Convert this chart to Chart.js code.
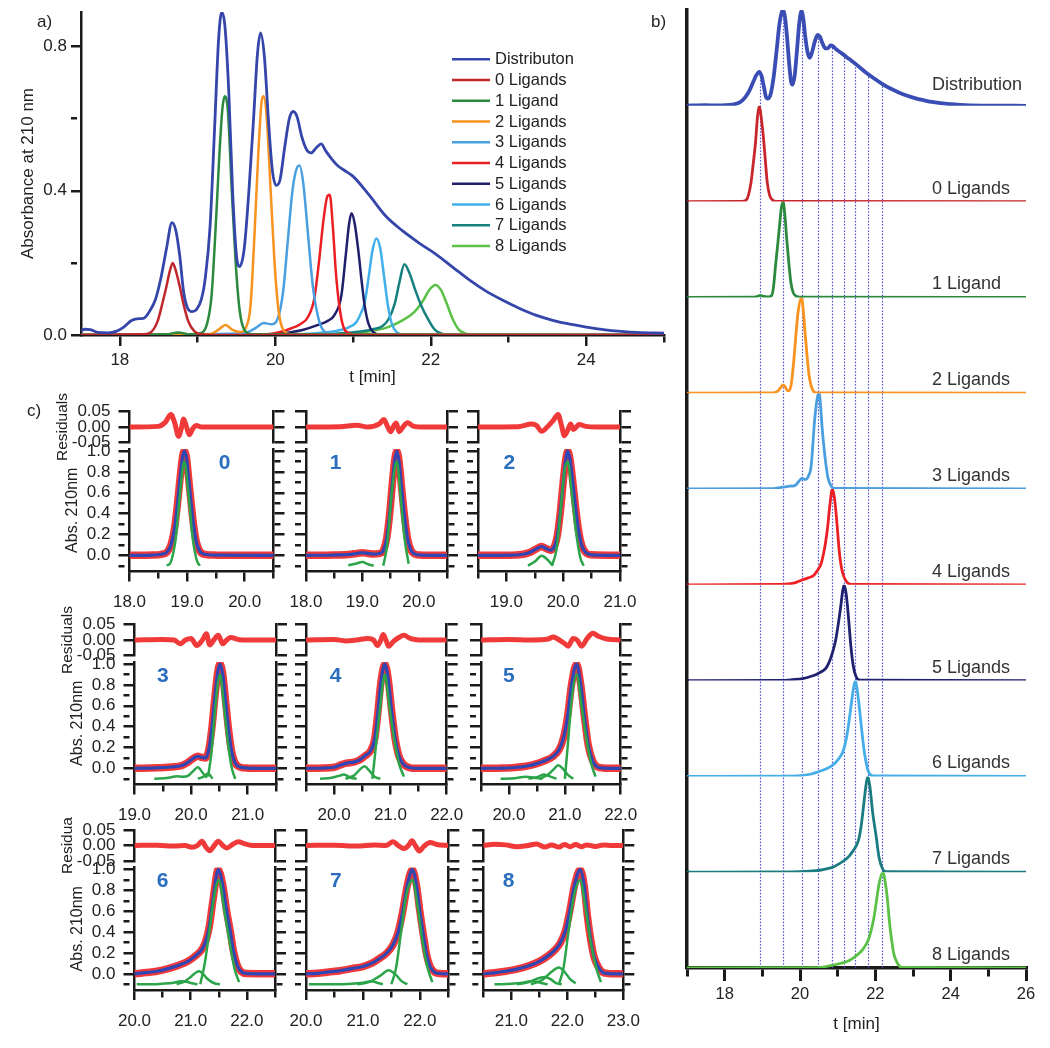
<!DOCTYPE html>
<html><head><meta charset="utf-8">
<script src="https://cdn.jsdelivr.net/npm/chart.js@4.4.1/dist/chart.umd.min.js"></script>
<style>
html,body{margin:0;padding:0;background:#fff;}
#wrap{position:relative;width:1050px;height:1048px;overflow:hidden;background:#fff;}
#wrap canvas{position:absolute;}
.lbl{position:absolute;z-index:5;font-family:"Liberation Sans",Arial,sans-serif;font-size:17px;color:#222;line-height:18px;}
</style></head><body>
<div id="wrap">
<div class="lbl" style="left:37px;top:13px">a)</div>
<div class="lbl" style="left:651px;top:13px">b)</div>
<div class="lbl" style="left:27px;top:402px">c)</div>
</div>
<script>
// ---------------- Panel a data ----------------
const legendA = ['Distributon','0 Ligands','1 Ligand','2 Ligands','3 Ligands','4 Ligands','5 Ligands','6 Ligands','7 Ligands','8 Ligands'];
const xTicksA = [18,19,20,21,22,23,24,25];
const yTicksA = [0,0.2,0.4,0.6,0.8];
const distA = [[17.5,0.012],[17.55,0.016],[17.62,0.015],[17.72,0.007],[17.85,0.006],[17.95,0.01],[18.05,0.022],[18.15,0.04],[18.22,0.045],[18.3,0.046],[18.38,0.065],[18.46,0.1],[18.53,0.16],[18.6,0.24],[18.67,0.312],[18.72,0.29],[18.77,0.22],[18.82,0.12],[18.87,0.075],[18.93,0.065],[18.99,0.072],[19.05,0.1],[19.1,0.16],[19.16,0.3],[19.22,0.58],[19.27,0.82],[19.31,0.895],[19.35,0.86],[19.4,0.68],[19.45,0.4],[19.5,0.22],[19.54,0.19],[19.6,0.24],[19.66,0.4],[19.72,0.6],[19.77,0.78],[19.81,0.838],[19.86,0.77],[19.91,0.6],[19.96,0.46],[20.01,0.415],[20.06,0.43],[20.12,0.52],[20.18,0.6],[20.23,0.62],[20.28,0.605],[20.34,0.55],[20.4,0.515],[20.46,0.505],[20.53,0.52],[20.59,0.53],[20.65,0.51],[20.72,0.49],[20.8,0.47],[20.9,0.455],[21.0,0.44],[21.2,0.39],[21.42,0.33],[21.63,0.29],[21.85,0.255],[22.06,0.225],[22.3,0.185],[22.5,0.152],[22.7,0.123],[22.92,0.097],[23.15,0.073],[23.35,0.055],[23.58,0.04],[23.79,0.03],[24.0,0.022],[24.22,0.015],[24.45,0.01],[24.65,0.007],[25.0,0.005]];
const aLig0 = [[17.5,0],[18.3,0.002],[18.38,0.005],[18.48,0.035],[18.55,0.09],[18.6,0.135],[18.64,0.175],[18.68,0.2],[18.72,0.178],[18.77,0.135],[18.82,0.085],[18.88,0.038],[18.96,0.01],[19.05,0.002],[19.3,0],[25,0]];
const aLig1 = [[17.5,0],[18.6,0.002],[18.75,0.007],[18.9,0.002],[19.05,0.006],[19.12,0.03],[19.18,0.11],[19.24,0.33],[19.28,0.5],[19.32,0.63],[19.35,0.662],[19.39,0.62],[19.44,0.4],[19.49,0.2],[19.54,0.07],[19.6,0.015],[19.7,0.002],[25,0]];
const aLig2 = [[17.5,0],[19.15,0.002],[19.27,0.015],[19.36,0.028],[19.45,0.014],[19.55,0.008],[19.62,0.02],[19.68,0.08],[19.73,0.27],[19.78,0.5],[19.82,0.64],[19.85,0.662],[19.89,0.6],[19.94,0.4],[19.99,0.2],[20.04,0.07],[20.1,0.015],[20.2,0.002],[25,0]];
const aLig3 = [[17.5,0],[19.6,0.005],[19.75,0.02],[19.85,0.033],[19.95,0.03],[20.03,0.045],[20.1,0.12],[20.16,0.26],[20.22,0.4],[20.28,0.465],[20.31,0.47],[20.36,0.42],[20.42,0.28],[20.48,0.14],[20.55,0.05],[20.62,0.012],[20.75,0.002],[25,0]];
const aLig4 = [[17.5,0],[19.9,0.002],[20.05,0.008],[20.2,0.018],[20.32,0.03],[20.42,0.05],[20.5,0.1],[20.56,0.2],[20.62,0.32],[20.67,0.385],[20.7,0.389],[20.74,0.3],[20.78,0.17],[20.83,0.07],[20.88,0.02],[20.95,0.005],[21.1,0],[25,0]];
const aLig5 = [[17.5,0],[19.9,0.002],[20.2,0.008],[20.35,0.014],[20.55,0.028],[20.68,0.04],[20.76,0.055],[20.85,0.11],[20.91,0.23],[20.95,0.31],[20.98,0.338],[21.02,0.31],[21.07,0.23],[21.11,0.15],[21.15,0.08],[21.2,0.03],[21.26,0.008],[21.35,0.001],[25,0]];
const aLig6 = [[17.5,0],[20.3,0.002],[20.6,0.006],[20.8,0.012],[20.95,0.022],[21.04,0.035],[21.1,0.06],[21.15,0.09],[21.2,0.16],[21.25,0.235],[21.3,0.268],[21.35,0.24],[21.4,0.16],[21.45,0.08],[21.5,0.03],[21.56,0.008],[21.65,0.001],[25,0]];
const aLig7 = [[17.5,0],[20.6,0.002],[20.9,0.006],[21.1,0.01],[21.25,0.016],[21.38,0.025],[21.46,0.045],[21.54,0.09],[21.6,0.15],[21.66,0.196],[21.72,0.175],[21.8,0.125],[21.88,0.08],[21.97,0.042],[22.05,0.015],[22.14,0.004],[22.3,0],[25,0]];
const aLig8 = [[17.5,0],[20.8,0.002],[21.2,0.01],[21.45,0.022],[21.63,0.04],[21.78,0.062],[21.9,0.095],[21.98,0.125],[22.06,0.139],[22.13,0.125],[22.2,0.09],[22.28,0.045],[22.36,0.015],[22.45,0.004],[22.6,0],[25,0]];

// ---------------- Panel b data ----------------
const labelsB = ['Distribution','0 Ligands','1 Ligand','2 Ligands','3 Ligands','4 Ligands','5 Ligands','6 Ligands','7 Ligands','8 Ligands'];
const xTicksB = [17,18,19,20,21,22,23,24,25,26];
const peakTimesB = [18.93,19.55,20.04,20.48,20.85,21.17,21.46,21.81,22.18];
const distB = [[17,0.002],[17.5,0.006],[17.8,0.004],[18.2,0.012],[18.4,0.035],[18.55,0.09],[18.66,0.16],[18.76,0.25],[18.84,0.32],[18.92,0.355],[18.98,0.31],[19.04,0.2],[19.1,0.09],[19.15,0.075],[19.22,0.12],[19.3,0.3],[19.38,0.58],[19.45,0.84],[19.51,0.97],[19.55,1.0],[19.6,0.93],[19.66,0.7],[19.71,0.45],[19.76,0.26],[19.8,0.22],[19.86,0.32],[19.92,0.58],[19.98,0.86],[20.04,0.99],[20.09,0.9],[20.14,0.72],[20.2,0.56],[20.26,0.5],[20.32,0.56],[20.4,0.68],[20.47,0.74],[20.53,0.72],[20.6,0.65],[20.67,0.6],[20.74,0.6],[20.81,0.63],[20.88,0.62],[20.96,0.59],[21.1,0.55],[21.3,0.49],[21.5,0.43],[21.74,0.35],[21.95,0.29],[22.18,0.23],[22.4,0.18],[22.62,0.14],[22.85,0.105],[23.07,0.078],[23.3,0.057],[23.5,0.04],[23.9,0.02],[24.39,0.008],[25,0.002],[26,0]];
const bLig0 = [[17,0],[18.45,0.003],[18.58,0.02],[18.7,0.2],[18.76,0.4],[18.82,0.62],[18.87,0.88],[18.92,1.0],[18.97,0.88],[19.04,0.62],[19.09,0.38],[19.13,0.2],[19.19,0.07],[19.26,0.02],[19.35,0.003],[26,0]];
const bLig1 = [[17,0],[18.8,0.003],[18.88,0.012],[18.95,0.022],[19.02,0.01],[19.15,0.006],[19.25,0.02],[19.3,0.12],[19.35,0.33],[19.4,0.52],[19.45,0.72],[19.5,0.92],[19.55,1.0],[19.6,0.85],[19.65,0.6],[19.71,0.33],[19.76,0.15],[19.82,0.05],[19.9,0.012],[20.0,0.002],[26,0]];
const bLig2 = [[17,0],[19.3,0.004],[19.42,0.025],[19.5,0.065],[19.55,0.087],[19.6,0.07],[19.66,0.03],[19.71,0.025],[19.77,0.1],[19.84,0.36],[19.9,0.65],[19.95,0.85],[20.04,1.0],[20.09,0.85],[20.13,0.65],[20.19,0.38],[20.24,0.19],[20.3,0.07],[20.36,0.02],[20.45,0.003],[26,0]];
const bLig3 = [[17,0],[19.3,0.004],[19.5,0.018],[19.6,0.022],[19.75,0.03],[19.88,0.04],[19.97,0.08],[20.05,0.11],[20.15,0.1],[20.24,0.15],[20.29,0.22],[20.33,0.4],[20.37,0.63],[20.42,0.84],[20.47,0.97],[20.51,1.0],[20.55,0.85],[20.59,0.63],[20.64,0.42],[20.68,0.28],[20.74,0.12],[20.82,0.035],[20.92,0.005],[26,0]];
const bLig4 = [[17,0],[19.5,0.003],[19.75,0.012],[19.9,0.025],[20.05,0.05],[20.2,0.07],[20.37,0.1],[20.48,0.16],[20.55,0.21],[20.6,0.28],[20.67,0.42],[20.73,0.59],[20.79,0.82],[20.86,1.0],[20.91,0.92],[20.95,0.78],[21.0,0.55],[21.04,0.36],[21.1,0.18],[21.17,0.08],[21.25,0.025],[21.35,0.005],[26,0]];
const bLig5 = [[17,0],[19.5,0.003],[19.8,0.01],[20.07,0.02],[20.3,0.045],[20.46,0.07],[20.6,0.1],[20.69,0.13],[20.76,0.18],[20.82,0.24],[20.89,0.33],[20.95,0.43],[21.02,0.6],[21.09,0.8],[21.13,0.93],[21.17,1.0],[21.22,0.92],[21.26,0.78],[21.31,0.55],[21.35,0.36],[21.42,0.14],[21.49,0.04],[21.58,0.006],[26,0]];
const bLig6 = [[17,0],[19.6,0.003],[19.9,0.006],[20.07,0.01],[20.3,0.025],[20.46,0.045],[20.7,0.08],[20.86,0.115],[21.0,0.17],[21.13,0.25],[21.2,0.34],[21.26,0.46],[21.32,0.63],[21.38,0.81],[21.43,0.94],[21.47,1.0],[21.52,0.9],[21.57,0.74],[21.64,0.48],[21.71,0.25],[21.78,0.1],[21.84,0.03],[21.95,0.004],[26,0]];
const bLig7 = [[17,0],[19.8,0.004],[20.1,0.008],[20.42,0.015],[20.65,0.03],[20.86,0.05],[21.05,0.09],[21.2,0.13],[21.31,0.17],[21.42,0.23],[21.5,0.28],[21.57,0.36],[21.63,0.5],[21.69,0.7],[21.75,0.9],[21.8,1.0],[21.86,0.88],[21.93,0.62],[22.02,0.38],[22.1,0.15],[22.2,0.03],[22.3,0.005],[26,0]];
const bLig8 = [[17,0],[20.3,0.003],[20.6,0.01],[20.87,0.03],[21.1,0.05],[21.32,0.08],[21.5,0.13],[21.68,0.2],[21.82,0.3],[21.95,0.5],[22.03,0.7],[22.1,0.88],[22.2,1.0],[22.28,0.85],[22.33,0.68],[22.37,0.5],[22.43,0.3],[22.49,0.15],[22.55,0.08],[22.62,0.03],[22.72,0.005],[26,0]];

// ---------------- Panel c data ----------------
const cellNames = ['0','1','2','3','4','5','6','7','8'];
const yTicksMain = [-0.1,0,0.1,0.2,0.3,0.4,0.5,0.6,0.7,0.8,0.9,1.0];
const yTicksRes = [-0.05,0,0.05];
const xTicksC0 = [18.0,18.5,19.0,19.5,20.0,20.5];
const xTicksC1 = [18.0,18.5,19.0,19.5,20.0,20.5];
const xTicksC2 = [18.5,19.0,19.5,20.0,20.5,21.0];
const xTicksC3 = [19.0,19.5,20.0,20.5,21.0,21.5];
const xTicksC4 = [19.5,20.0,20.5,21.0,21.5,22.0];
const xTicksC5 = [19.5,20.0,20.5,21.0,21.5,22.0];
const xTicksC6 = [20.0,20.5,21.0,21.5,22.0,22.5];
const xTicksC7 = [20.0,20.5,21.0,21.5,22.0,22.5];
const xTicksC8 = [20.5,21.0,21.5,22.0,22.5,23.0];

const fit0 = [[18.0,0],[18.4,0.003],[18.55,0.01],[18.65,0.03],[18.72,0.1],[18.78,0.25],[18.83,0.48],[18.88,0.75],[18.92,0.94],[18.95,1.0],[18.99,0.93],[19.03,0.72],[19.07,0.5],[19.11,0.3],[19.16,0.13],[19.22,0.04],[19.3,0.01],[19.5,0.002],[20.5,0]];
const fit1 = [[18.0,0],[18.5,0.003],[18.75,0.008],[18.9,0.018],[19.0,0.025],[19.1,0.018],[19.2,0.012],[19.3,0.018],[19.37,0.045],[19.43,0.16],[19.48,0.38],[19.53,0.68],[19.57,0.9],[19.61,1.0],[19.65,0.9],[19.7,0.62],[19.75,0.36],[19.8,0.16],[19.86,0.05],[19.93,0.012],[20.05,0.002],[20.5,0]];
const fit2 = [[18.5,0],[19.1,0.002],[19.3,0.01],[19.42,0.03],[19.52,0.06],[19.62,0.085],[19.7,0.065],[19.78,0.05],[19.85,0.09],[19.9,0.2],[19.95,0.42],[20.0,0.7],[20.04,0.9],[20.08,1.0],[20.12,0.92],[20.17,0.7],[20.22,0.45],[20.27,0.24],[20.33,0.09],[20.4,0.025],[20.5,0.005],[21.0,0]];
const fit3 = [[19.0,0],[19.4,0.005],[19.7,0.015],[19.85,0.03],[19.95,0.06],[20.05,0.1],[20.12,0.115],[20.19,0.105],[20.26,0.1],[20.32,0.2],[20.37,0.4],[20.42,0.68],[20.47,0.92],[20.51,1.0],[20.56,0.9],[20.61,0.64],[20.66,0.38],[20.71,0.18],[20.77,0.06],[20.85,0.015],[21.0,0.002],[21.5,0]];
const fit4 = [[19.5,0],[19.8,0.003],[20.0,0.01],[20.1,0.03],[20.22,0.05],[20.35,0.06],[20.45,0.08],[20.55,0.12],[20.65,0.17],[20.72,0.28],[20.77,0.5],[20.83,0.82],[20.9,1.0],[20.96,0.86],[21.02,0.56],[21.08,0.3],[21.15,0.12],[21.23,0.04],[21.32,0.01],[21.5,0],[22.0,0]];
const fit5 = [[19.5,0],[19.9,0.003],[20.1,0.008],[20.3,0.02],[20.5,0.045],[20.65,0.075],[20.78,0.11],[20.9,0.18],[20.98,0.3],[21.05,0.5],[21.12,0.8],[21.21,1.0],[21.28,0.82],[21.35,0.5],[21.42,0.22],[21.5,0.07],[21.58,0.015],[21.7,0.002],[22.0,0]];
const fit6 = [[20.0,0],[20.2,0.012],[20.4,0.025],[20.6,0.05],[20.8,0.085],[20.95,0.12],[21.08,0.17],[21.18,0.22],[21.26,0.3],[21.33,0.45],[21.4,0.72],[21.49,1.0],[21.57,0.85],[21.64,0.6],[21.7,0.42],[21.76,0.22],[21.83,0.08],[21.9,0.02],[22.0,0.003],[22.5,0]];
const fit7 = [[20.0,0],[20.2,0.005],[20.4,0.018],[20.6,0.03],[20.8,0.05],[21.0,0.07],[21.15,0.1],[21.3,0.15],[21.42,0.2],[21.53,0.28],[21.62,0.4],[21.7,0.6],[21.78,0.85],[21.87,1.0],[21.94,0.85],[22.0,0.6],[22.06,0.38],[22.12,0.18],[22.18,0.07],[22.26,0.015],[22.35,0.003],[22.5,0]];
const fit8 = [[20.5,0],[20.7,0.01],[20.9,0.025],[21.1,0.045],[21.3,0.075],[21.5,0.12],[21.65,0.17],[21.78,0.23],[21.88,0.3],[21.97,0.42],[22.05,0.62],[22.13,0.85],[22.23,1.0],[22.3,0.85],[22.36,0.55],[22.42,0.32],[22.48,0.16],[22.55,0.07],[22.63,0.015],[22.75,0.002],[23.0,0]];

const g0a = [[18.65,-0.1],[18.72,-0.06],[18.8,0.15],[18.87,0.55],[18.95,0.9],[19.03,0.55],[19.1,0.15],[19.17,-0.05],[19.22,-0.1]];
const g1a = [[19.37,-0.1],[19.44,0.1],[19.52,0.6],[19.61,0.9],[19.68,0.55],[19.75,0.15],[19.82,-0.08]];
const g1b = [[18.75,-0.095],[18.88,-0.08],[19.0,-0.065],[19.1,-0.085],[19.2,-0.1]];
const g2a = [[19.8,-0.1],[19.88,0.05],[19.95,0.4],[20.02,0.8],[20.08,0.9],[20.15,0.6],[20.22,0.25],[20.3,-0.02],[20.36,-0.1]];
const g2b = [[19.38,-0.1],[19.5,-0.06],[19.62,-0.005],[19.72,-0.04],[19.82,-0.1]];
const g3a = [[20.3,-0.08],[20.36,0.15],[20.43,0.6],[20.51,0.9],[20.58,0.6],[20.65,0.25],[20.72,0.0],[20.78,-0.1]];
const g3b = [[19.35,-0.1],[19.6,-0.09],[19.75,-0.075],[19.85,-0.08],[19.95,-0.07],[20.03,-0.03],[20.12,0.01],[20.2,-0.04],[20.28,-0.09]];
const g3c = [[20.12,-0.1],[20.22,-0.08],[20.3,-0.05],[20.38,-0.1]];
const g4a = [[20.68,-0.1],[20.74,0.2],[20.82,0.6],[20.9,0.9],[20.98,0.6],[21.06,0.3],[21.15,0.05],[21.24,-0.08]];
const g4b = [[19.75,-0.1],[19.95,-0.09],[20.1,-0.07],[20.17,-0.06],[20.3,-0.09],[20.4,-0.1]];
const g4c = [[20.2,-0.1],[20.35,-0.07],[20.46,-0.01],[20.54,0.02],[20.62,-0.02],[20.72,-0.08],[20.82,-0.1]];
const g5a = [[21.0,-0.1],[21.05,0.2],[21.12,0.65],[21.21,0.9],[21.3,0.6],[21.38,0.3],[21.47,0.05],[21.55,-0.08]];
const g5b = [[19.85,-0.1],[20.1,-0.095],[20.3,-0.08],[20.45,-0.09],[20.6,-0.1]];
const g5c = [[20.35,-0.1],[20.5,-0.085],[20.62,-0.06],[20.72,-0.075],[20.85,-0.1]];
const g5d = [[20.55,-0.1],[20.7,-0.06],[20.8,-0.01],[20.88,0.03],[20.96,0.0],[21.05,-0.06],[21.15,-0.1]];
const g6a = [[21.17,-0.1],[21.25,0.1],[21.33,0.4],[21.42,0.75],[21.5,0.9],[21.6,0.6],[21.7,0.28],[21.78,0.05],[21.86,-0.08]];
const g6b = [[20.04,-0.1],[20.3,-0.1],[20.5,-0.095],[20.7,-0.085],[20.82,-0.07],[20.92,-0.075],[21.02,-0.09],[21.12,-0.1]];
const g6c = [[20.75,-0.1],[20.9,-0.07],[21.02,-0.02],[21.1,0.015],[21.15,0.025],[21.22,0.0],[21.3,-0.05],[21.42,-0.09],[21.52,-0.1]];
const g7a = [[21.5,-0.1],[21.58,0.05],[21.67,0.4],[21.76,0.75],[21.87,0.9],[21.96,0.65],[22.05,0.3],[22.14,0.05],[22.22,-0.08]];
const g7b = [[20.05,-0.1],[20.5,-0.1],[20.8,-0.095],[21.0,-0.085],[21.15,-0.07],[21.25,-0.085],[21.35,-0.1]];
const g7c = [[20.9,-0.1],[21.1,-0.08],[21.3,-0.02],[21.45,0.035],[21.58,-0.01],[21.68,-0.07],[21.78,-0.1]];
const g8a = [[21.85,-0.1],[21.93,0.05],[22.02,0.4],[22.12,0.75],[22.23,0.9],[22.32,0.65],[22.42,0.3],[22.52,0.05],[22.6,-0.08]];
const g8b = [[20.7,-0.1],[21.0,-0.095],[21.2,-0.085],[21.35,-0.07],[21.45,-0.075],[21.55,-0.09],[21.65,-0.1]];
const g8c = [[21.1,-0.1],[21.3,-0.08],[21.5,-0.04],[21.6,-0.03],[21.7,-0.05],[21.8,-0.09],[21.9,-0.1]];
const g8d = [[21.35,-0.1],[21.55,-0.06],[21.72,0.02],[21.85,0.06],[21.95,0.02],[22.05,-0.05],[22.15,-0.09]];

const res0 = [[18.0,0],[18.5,0.002],[18.62,0.015],[18.72,0.04],[18.79,0.01],[18.85,-0.03],[18.9,-0.005],[18.94,0.026],[18.99,0.0],[19.04,-0.025],[19.1,-0.005],[19.16,0.005],[19.25,0],[20.5,0]];
const res1 = [[18.0,0],[18.6,0.001],[18.9,0.006],[19.1,0],[19.3,0.01],[19.38,0.024],[19.45,0.0],[19.5,-0.015],[19.56,0.005],[19.6,0.013],[19.65,-0.015],[19.72,0.0],[19.8,0.014],[19.9,0.003],[20.1,0],[20.5,0]];
const res2 = [[18.5,0],[19.2,0.001],[19.45,0.01],[19.53,0.005],[19.62,-0.014],[19.72,0.0],[19.82,0.02],[19.91,0.04],[19.97,0.005],[20.02,-0.028],[20.08,-0.01],[20.13,0.01],[20.18,-0.008],[20.28,0.008],[20.4,0.002],[20.6,0],[21.0,0]];
const res3 = [[19.0,0],[19.5,0.002],[19.7,0.0],[19.81,-0.012],[19.9,0.0],[20.0,0.005],[20.1,-0.018],[20.2,0.0],[20.27,0.02],[20.33,-0.016],[20.4,0.0],[20.48,0.015],[20.56,-0.012],[20.63,0.0],[20.7,0.008],[20.85,0.001],[21.0,0],[21.5,0]];
const res4 = [[19.5,0],[20.0,0.002],[20.2,-0.003],[20.4,0.0],[20.6,0.005],[20.7,0.0],[20.77,-0.018],[20.83,0.0],[20.87,0.018],[20.92,0.0],[20.97,-0.02],[21.05,-0.005],[21.15,0.008],[21.24,0.015],[21.35,0.005],[21.5,0],[22.0,0]];
const res5 = [[19.5,0],[20.0,0.002],[20.4,0],[20.7,0.003],[20.79,0.01],[20.9,0.0],[21.0,-0.012],[21.06,-0.02],[21.15,0.005],[21.22,0.0],[21.3,-0.02],[21.4,0.005],[21.5,0.022],[21.6,0.012],[21.75,0.003],[22.0,0]];
const res6 = [[20.0,0],[20.4,0.001],[20.7,-0.002],[20.9,0.0],[21.02,-0.006],[21.12,0.0],[21.2,0.014],[21.27,-0.005],[21.34,-0.017],[21.42,0.0],[21.49,0.014],[21.57,0.0],[21.64,-0.008],[21.75,0.004],[21.85,0.012],[21.95,0.006],[22.1,0.0],[22.5,0]];
const res7 = [[20.0,0],[20.5,0.001],[20.9,-0.002],[21.2,0.002],[21.4,0.0],[21.53,0.012],[21.62,0.0],[21.72,-0.01],[21.8,0.0],[21.86,0.015],[21.92,0.0],[21.99,-0.018],[22.07,-0.003],[22.18,0.01],[22.3,0.003],[22.5,0]];
const res8 = [[20.5,0],[20.7,0.004],[20.9,0.002],[21.1,-0.004],[21.3,0.0],[21.45,0.005],[21.6,-0.005],[21.72,0.002],[21.85,-0.005],[21.95,0.003],[22.05,-0.004],[22.15,0.003],[22.25,-0.004],[22.35,0.002],[22.5,-0.003],[22.65,0.002],[22.8,0.0],[23.0,0]];

// ---------------- helpers ----------------
const FONT = '"Liberation Sans", Arial, Helvetica, sans-serif';
const AX = '#1a1a1a';
Chart.defaults.font.family = FONT;
Chart.defaults.color = '#222';
Chart.defaults.animation = false;
Chart.defaults.plugins.legend.display = false;
Chart.defaults.plugins.tooltip.enabled = false;
Chart.defaults.elements.point.radius = 0;
Chart.defaults.elements.line.cubicInterpolationMode = 'monotone';
Chart.defaults.elements.line.borderJoinStyle = 'round';

const wrap = document.getElementById('wrap');
function mk(left, top, w, h) {
  const c = document.createElement('canvas');
  c.width = w; c.height = h;
  c.style.left = left + 'px'; c.style.top = top + 'px';
  c.style.width = w + 'px'; c.style.height = h + 'px';
  wrap.appendChild(c);
  return c;
}
const P = a => a.map(([x, y]) => ({x, y}));
const setTicks = arr => s => { s.ticks = arr.map(v => ({value: v})); };
const fixW = w => s => { s.width = w; s.paddingTop = 0; s.paddingBottom = 0; s.paddingLeft = 0; s.paddingRight = 0; };
const fixH = h => s => { s.height = h; s.paddingTop = 0; s.paddingBottom = 0; s.paddingLeft = 0; s.paddingRight = 0; };
const dashFn = (isMajor, len) => ctx => (ctx.tick && !isMajor(ctx.tick.value)) ? [len, 300] : [];
const baseOpts = {responsive: false, maintainAspectRatio: false, devicePixelRatio: 1, events: [], animation: false};
function interp(arr, t) {
  for (let i = 1; i < arr.length; i++) {
    if (arr[i][0] >= t) { const [x0, y0] = arr[i - 1], [x1, y1] = arr[i]; return y0 + (y1 - y0) * (t - x0) / (x1 - x0); }
  }
  return arr[arr.length - 1][1];
}

// ---------------- Panel a ----------------
const colorsA = ['#3446aa','#c0272d','#2b8a3e','#f7931e','#4a9fe0','#ec2024','#1f1f6b','#41b0ea','#15807e','#5bc146'];
const seriesA = [distA, aLig0, aLig1, aLig2, aLig3, aLig4, aLig5, aLig6, aLig7, aLig8];
const isEven = v => Math.round(v) % 2 === 0;
new Chart(mk(0, 0, 680, 395), {
  type: 'line',
  data: {datasets: seriesA.map((s, i) => ({label: legendA[i], data: P(s), borderColor: colorsA[i], borderWidth: i === 0 ? 2.8 : 2.5}))},
  options: Object.assign({}, baseOpts, {
    layout: {padding: {left: 0, top: 12, right: 16, bottom: 0}},
    scales: {
      x: {type: 'linear', min: 17.5, max: 25, afterBuildTicks: setTicks(xTicksA), afterFit: fixH(60),
        ticks: {autoSkip: false, maxRotation: 0, padding: 4, font: {size: 17}, color: '#222', callback: v => isEven(v) ? String(v) : ''},
        grid: {drawOnChartArea: false, tickLength: 11, lineWidth: 2.5, color: AX, tickBorderDash: dashFn(isEven, 6)},
        border: {color: AX, width: 2.5},
        title: {display: true, text: 't [min]', font: {size: 17}, color: '#222', padding: {top: 0, bottom: 7}}},
      y: {type: 'linear', min: 0, max: 0.896, afterBuildTicks: setTicks(yTicksA), afterFit: fixW(81),
        ticks: {autoSkip: false, padding: 4, font: {size: 17}, color: '#222', callback: v => Math.round(v * 10) % 4 === 0 ? v.toFixed(1) : ''},
        grid: {drawOnChartArea: false, tickLength: 10, lineWidth: 2.5, color: AX, tickBorderDash: dashFn(v => Math.round(v * 10) % 4 === 0, 6)},
        border: {color: AX, width: 2.5},
        title: {display: true, text: 'Absorbance at 210 nm', font: {size: 17}, color: '#222', padding: {top: 18, bottom: 0}}}
    }
  }),
  plugins: [{
    id: 'legA',
    afterDraw(chart) {
      const ctx = chart.ctx;
      ctx.save();
      chart.data.datasets.forEach((ds, i) => {
        const y = 59.3 + i * 20.74;
        ctx.strokeStyle = ds.borderColor; ctx.lineWidth = 2.6;
        ctx.beginPath(); ctx.moveTo(452, y); ctx.lineTo(490, y); ctx.stroke();
        ctx.fillStyle = '#222'; ctx.font = '16.5px ' + FONT; ctx.textBaseline = 'middle'; ctx.textAlign = 'left';
        ctx.fillText(ds.label, 495, y + 0.5);
      });
      ctx.restore();
    }
  }]
});

// ---------------- Panel b ----------------
const colorsB = ['#3a4db4','#c8262c','#2b8a3e','#f7931e','#4a9fe0','#ec2024','#1f206f','#45ade8','#1a7c80','#5bc146'];
const seriesB = [distB, bLig0, bLig1, bLig2, bLig3, bLig4, bLig5, bLig6, bLig7, bLig8];
const axisIdsB = ['yd','y0','y1','y2','y3','y4','y5','y6','y7','y8'];
const scalesB = {
  x: {type: 'linear', min: 17, max: 26, afterBuildTicks: setTicks(xTicksB), afterFit: fixH(80),
    ticks: {autoSkip: false, maxRotation: 0, padding: 4, font: {size: 16.5}, color: '#222', callback: v => isEven(v) ? String(v) : ''},
    grid: {drawOnChartArea: false, tickLength: 13, lineWidth: 3, color: AX, tickBorderDash: dashFn(isEven, 7)},
    border: {color: AX, width: 3.5},
    title: {display: true, text: 't [min]', font: {size: 17}, color: '#222', padding: {top: 0, bottom: 13}}}
};
axisIdsB.forEach((id, i) => {
  scalesB[id] = {type: 'linear', position: 'left', stack: 'b', stackWeight: 1, weight: 20 - i, min: 0, max: 1,
    ticks: {display: false}, grid: {display: false}, border: {color: AX, width: 3.5}, afterFit: fixW(47)};
});
new Chart(mk(640, 0, 410, 1048), {
  type: 'line',
  data: {datasets: seriesB.map((s, i) => ({label: labelsB[i], data: P(s), yAxisID: axisIdsB[i], borderColor: colorsB[i], borderWidth: i === 0 ? 3.8 : 2.8}))},
  options: Object.assign({}, baseOpts, {
    layout: {padding: {left: 0, top: 10, right: 24, bottom: 0}},
    scales: scalesB
  }),
  plugins: [{
    id: 'bDeco',
    beforeDatasetsDraw(chart) {
      const {ctx, chartArea, scales} = chart;
      ctx.save();
      ctx.strokeStyle = 'rgba(70,70,205,0.9)'; ctx.lineWidth = 1.2; ctx.setLineDash([1.6, 1.6]);
      peakTimesB.forEach(t => {
        const px = Math.round(scales.x.getPixelForValue(t)) + 0.5;
        const top = scales.yd.getPixelForValue(interp(distB, t));
        ctx.beginPath(); ctx.moveTo(px, chartArea.bottom); ctx.lineTo(px, top); ctx.stroke();
      });
      ctx.restore();
    },
    afterDatasetsDraw(chart) {
      const ctx = chart.ctx;
      ctx.save();
      ctx.font = '18px ' + FONT; ctx.fillStyle = '#333'; ctx.textAlign = 'left'; ctx.textBaseline = 'middle';
      chart.data.datasets.forEach((ds, i) => {
        const y = chart.scales[ds.yAxisID].getPixelForValue(0) - (i === 0 ? 21 : 13);
        ctx.fillText(ds.label, 292, y);
      });
      ctx.restore();
    }
  }]
});

// ---------------- Panel c ----------------
const cellFits = [fit0, fit1, fit2, fit3, fit4, fit5, fit6, fit7, fit8];
const cellGreens = [[g0a], [g1a, g1b], [g2a, g2b], [g3a, g3b, g3c], [g4a, g4b, g4c], [g5a, g5b, g5c, g5d], [g6a, g6b, g6c], [g7a, g7b, g7c], [g8a, g8b, g8c, g8d]];
const cellRes = [res0, res1, res2, res3, res4, res5, res6, res7, res8];
const cellXTicks = [xTicksC0, xTicksC1, xTicksC2, xTicksC3, xTicksC4, xTicksC5, xTicksC6, xTicksC7, xTicksC8];
const resTitles = ['Residuals', 'Residuals', 'Residua'];

const rowRes = [411.5, 624.5, 830];
const cellCols = [[[129.5, 273.5], [306, 447], [478, 620]], [[134.5, 276], [306, 446.7], [481, 620.7]], [[134.5, 275], [306, 448.3], [483.3, 623.3]]];
const numPos = [0.66, 0.21, 0.22, 0.2, 0.21, 0.2, 0.2, 0.21, 0.18];
const RES_H = 31, GAP = 6.5, MAIN_H = 122.5, AW = 85, RW = 14, PR = 8, PT = 14, RPT = 42, XH = 52;
const RED = '#f03a3a', BLUE = '#2f46b4', GREEN = '#2ca44a';
const isInt = v => Math.abs(v - Math.round(v)) < 1e-6;
const isMajY = v => v > -0.01 && Math.round(v * 10) % 2 === 0;

function yAxisCfg(opts) {
  return Object.assign({
    type: 'linear',
    ticks: {autoSkip: false, padding: 8, font: {size: 17}, color: '#222'},
    grid: {drawOnChartArea: false, tickLength: 11, lineWidth: 2.5, color: AX},
    border: {color: AX, width: 2.5}
  }, opts);
}

for (let k = 0; k < 9; k++) {
  const r = Math.floor(k / 3), c = k % 3;
  const [L, R] = cellCols[r][c];
  const W = R - L;
  const cl = Math.round(L - AW), aw = L - cl;
  const cw = Math.ceil(aw + W + RW + PR), pr = cw - aw - W - RW;
  const xt = cellXTicks[k];
  const xmin = xt[0], xmax = xt[xt.length - 1];

  // residual chart
  const rt = rowRes[r];
  const rTop = Math.round(rt - RPT), rpt = rt - rTop;
  const rh = Math.ceil(rpt + RES_H + RPT), rpb = rh - rpt - RES_H;
  new Chart(mk(cl, rTop, cw, rh), {
    type: 'line',
    data: {datasets: [{data: P(cellRes[k]), borderColor: RED, borderWidth: 5}]},
    options: Object.assign({}, baseOpts, {
      layout: {padding: {left: 0, right: pr, top: rpt, bottom: rpb}},
      scales: {
        x: {type: 'linear', display: false, min: xmin, max: xmax},
        y: yAxisCfg({position: 'left', min: -0.05, max: 0.05, afterBuildTicks: setTicks(yTicksRes), afterFit: fixW(aw),
          ticks: {autoSkip: false, padding: 8, font: {size: 17}, color: '#222', callback: c === 0 ? (v => v.toFixed(2)) : (() => '')},
          title: c === 0 ? {display: true, text: resTitles[r], font: {size: 15.5}, color: '#222', padding: {top: 8, bottom: 0}} : {display: false}}),
        y2: yAxisCfg({position: 'right', min: -0.05, max: 0.05, afterBuildTicks: setTicks(yTicksRes), afterFit: fixW(RW),
          ticks: {autoSkip: false, padding: 0, callback: () => ''}})
      }
    })
  });

  // main chart
  const mt = rt + RES_H + GAP;
  const mTop = Math.round(mt - PT), mpt = mt - mTop;
  const mh = Math.ceil(mpt + MAIN_H + XH), xh = mh - mpt - MAIN_H;
  const ds = cellGreens[k].map(g => ({data: P(g), borderColor: GREEN, borderWidth: 2.5}));
  ds.push({data: P(cellFits[k]), borderColor: BLUE, borderWidth: 3.2});
  ds.push({data: P(cellFits[k]), borderColor: RED, borderWidth: 7.5});
  const kk = k;
  new Chart(mk(cl, mTop, cw, mh), {
    type: 'line',
    data: {datasets: ds},
    options: Object.assign({}, baseOpts, {
      layout: {padding: {left: 0, right: pr, top: mpt, bottom: 0}},
      scales: {
        x: {type: 'linear', min: xmin, max: xmax, afterBuildTicks: setTicks(xt), afterFit: fixH(xh),
          ticks: {autoSkip: false, maxRotation: 0, padding: 11, font: {size: 17}, color: '#222', callback: v => isInt(v) ? v.toFixed(1) : ''},
          grid: {drawOnChartArea: false, tickLength: 10, lineWidth: 2.5, color: AX, tickBorderDash: dashFn(isInt, 6)},
          border: {color: AX, width: 2.5}},
        y: yAxisCfg({position: 'left', min: -0.155, max: 1.02, afterBuildTicks: setTicks(yTicksMain), afterFit: fixW(aw),
          ticks: {autoSkip: false, padding: 8, font: {size: 17}, color: '#222', callback: c === 0 ? (v => isMajY(v) ? v.toFixed(1) : '') : (() => '')},
          grid: {drawOnChartArea: false, tickLength: 11, lineWidth: 2.5, color: AX, tickBorderDash: dashFn(isMajY, 6)},
          title: c === 0 ? {display: true, text: 'Abs. 210nm', font: {size: 16}, color: '#222', padding: {top: 18, bottom: 0}} : {display: false}}),
        y2: yAxisCfg({position: 'right', min: -0.155, max: 1.02, afterBuildTicks: setTicks(yTicksMain), afterFit: fixW(RW),
          ticks: {autoSkip: false, padding: 0, callback: () => ''},
          grid: {drawOnChartArea: false, tickLength: 11, lineWidth: 2.5, color: AX, tickBorderDash: dashFn(isMajY, 6)}})
      }
    }),
    plugins: [{
      id: 'num' + kk,
      afterDraw(chart) {
        const ctx = chart.ctx, a = chart.chartArea;
        ctx.save();
        ctx.font = 'bold 21px ' + FONT; ctx.fillStyle = '#2a6ebd'; ctx.textAlign = 'center'; ctx.textBaseline = 'middle';
        ctx.fillText(cellNames[kk], a.left + numPos[kk] * (a.right - a.left), chart.scales.y.getPixelForValue(0.885));
        ctx.restore();
      }
    }]
  });
}
</script>
</body></html>
